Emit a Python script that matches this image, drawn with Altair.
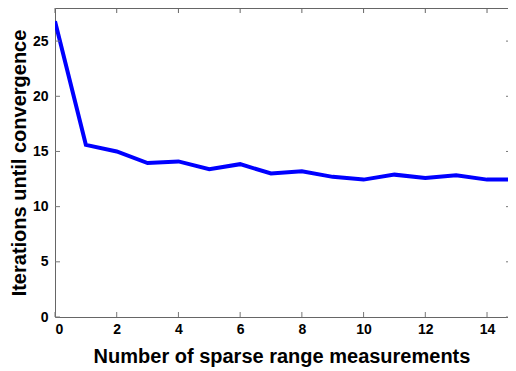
import altair as alt
import pandas as pd

# Data
measurements = list(range(16))
iterations = [26.8, 15.6, 15.0, 13.95, 14.1, 13.4, 13.85, 13.0, 13.2, 12.7,
              12.45, 12.9, 12.6, 12.85, 12.45, 12.45]
x_ticks = [0, 2, 4, 6, 8, 10, 12, 14]
y_ticks = [0, 5, 10, 15, 20, 25]

W, H = 453, 309
TICK = 5
FONT = "Liberation Sans"
FRAME = "#666666"

df = pd.DataFrame({"x": measurements, "y": iterations})
xt = pd.DataFrame({"v": x_ticks})
yt = pd.DataFrame({"v": y_ticks})

# the reference axis runs to 15, but the right part is cut off by the window
xscale = alt.Scale(domain=[0, 14.68], nice=False, zero=False)
yscale = alt.Scale(domain=[0, 28], nice=False, zero=False)

line = alt.Chart(df).mark_line(color="#0000ff", strokeWidth=4, clip=True).encode(
    x=alt.X("x:Q", scale=xscale,
            axis=alt.Axis(values=x_ticks, title="Number of sparse range measurements",
                          grid=False, ticks=False, labelPadding=5, titlePadding=10,
                          domain=True)),
    y=alt.Y("y:Q", scale=yscale,
            axis=alt.Axis(values=y_ticks, title="Iterations until convergence",
                          grid=False, ticks=False, labelPadding=7, titlePadding=3,
                          domain=True)),
)

# top frame line as an unlabeled top axis
top_frame = alt.Chart(xt).mark_rule(color=FRAME, strokeWidth=1).encode(
    x=alt.X("v:Q", scale=xscale,
            axis=alt.Axis(orient="top", labels=False, ticks=False, title=None,
                          grid=False, domain=True)),
    y=alt.value(0), y2=alt.value(TICK))

tick_color = "#777777"
xt_bottom = alt.Chart(xt).mark_rule(color=tick_color, strokeWidth=1).encode(
    x=alt.X("v:Q", scale=xscale, axis=None), y=alt.value(H), y2=alt.value(H - TICK))
yt_left = alt.Chart(yt).mark_rule(color=tick_color, strokeWidth=1).encode(
    y=alt.Y("v:Q", scale=yscale, axis=None), x=alt.value(0), x2=alt.value(TICK))
yt_right = alt.Chart(yt).mark_rule(color=tick_color, strokeWidth=1).encode(
    y=alt.Y("v:Q", scale=yscale, axis=None), x=alt.value(W + 3), x2=alt.value(W - 2))

chart = alt.layer(line, top_frame, xt_bottom, yt_left, yt_right).resolve_axis(
    x="independent", y="independent"
).properties(
    width=W, height=H,
    autosize=alt.AutoSizeParams(type="none"),
    padding={"left": 47, "top": 0, "right": 0, "bottom": 54},
).configure_view(
    stroke=None
).configure_axis(
    domainColor=FRAME,
    labelFont=FONT, labelFontSize=14, labelFontWeight="bold", labelColor="#000000",
    titleFont=FONT, titleFontSize=20, titleFontWeight="bold", titleColor="#000000",
)

chart.save("out.html", embed_options={"renderer": "svg", "actions": False})
